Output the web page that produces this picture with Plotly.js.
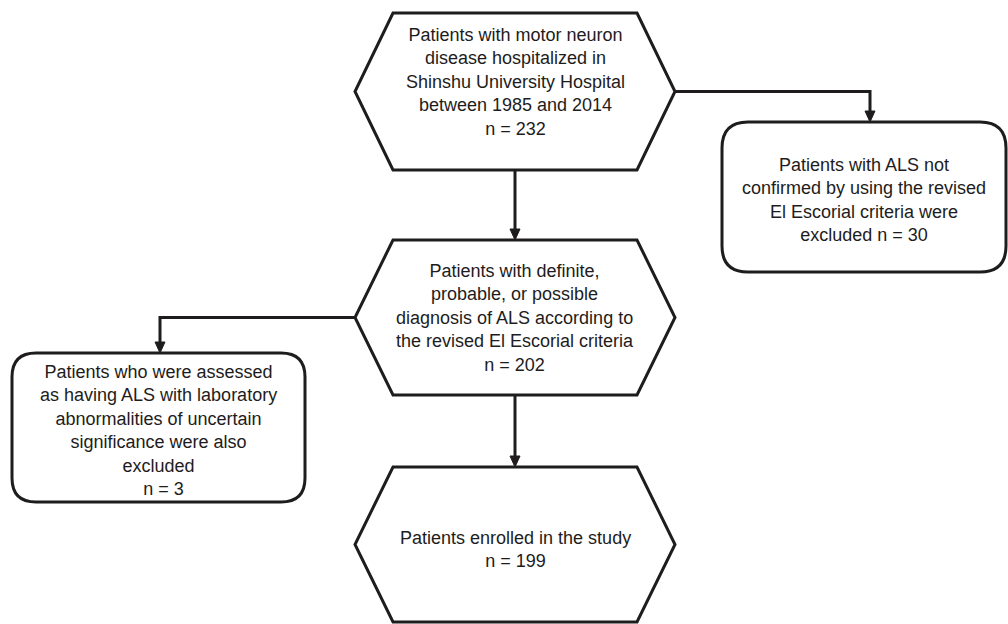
<!DOCTYPE html>
<html>
<head>
<meta charset="utf-8">
<script src="https://cdn.plot.ly/plotly-3.0.1.min.js"></script>
<style>html,body{margin:0;padding:0;background:#fff;}#chart{width:1008px;height:624px;}</style>
</head>
<body>
<div id="chart"></div>
<script>
// ---- data ----
const stepTexts = [
  "Patients with motor neuron<br>disease hospitalized in<br>Shinshu University Hospital<br>between 1985 and 2014",
  "Patients with definite,<br>probable, or possible<br>diagnosis of ALS according to<br>the revised El Escorial criteria",
  "Patients enrolled in the study"
];
const stepCounts = [232, 202, 199];
const exclusionTexts = [
  "Patients with ALS not<br>confirmed by using the revised<br>El Escorial criteria were<br>excluded n = 30",
  "Patients who were assessed<br>as having ALS with laboratory<br>abnormalities of uncertain<br>significance were also<br>excluded<br>  n = 3"
];

// ---- geometry ----
const INK = "#1e1c1c";
const LW = 3;
const hexX = {left: 355, inL: 393, inR: 637, right: 675, cx: 515};
const hexY = [[13, 170], [240, 395], [467, 622]];
const boxes = [
  {x0: 722, x1: 1006, y0: 122, y1: 272, r: 26},
  {x0: 12, x1: 305, y0: 353, y1: 502, r: 24}
];

function hexPath(y0, y1) {
  const ym = (y0 + y1) / 2;
  return `M ${hexX.inL} ${y0} L ${hexX.inR} ${y0} L ${hexX.right} ${ym} L ${hexX.inR} ${y1} L ${hexX.inL} ${y1} L ${hexX.left} ${ym} Z`;
}
function roundRect(b) {
  const {x0, x1, y0, y1, r} = b;
  return `M ${x0 + r} ${y0} L ${x1 - r} ${y0} Q ${x1} ${y0} ${x1} ${y0 + r} L ${x1} ${y1 - r} Q ${x1} ${y1} ${x1 - r} ${y1} L ${x0 + r} ${y1} Q ${x0} ${y1} ${x0} ${y1 - r} L ${x0} ${y0 + r} Q ${x0} ${y0} ${x0 + r} ${y0} Z`;
}
function arrowHead(x, yTip) {
  return `M ${x - 5} ${yTip - 11} L ${x + 5} ${yTip - 11} L ${x} ${yTip} Z`;
}

const shapes = [];
hexY.forEach(([y0, y1]) => shapes.push({type: "path", path: hexPath(y0, y1), line: {color: INK, width: LW}}));
boxes.forEach(b => shapes.push({type: "path", path: roundRect(b), line: {color: INK, width: LW}}));

// connectors
const lines = [];
// hex1 -> hex2
lines.push(`M ${hexX.cx} ${hexY[0][1]} L ${hexX.cx} ${hexY[1][0] - 9}`);
// hex2 -> hex3
lines.push(`M ${hexX.cx} ${hexY[1][1]} L ${hexX.cx} ${hexY[2][0] - 9}`);
// hex1 -> right box
const y1m = (hexY[0][0] + hexY[0][1]) / 2;
lines.push(`M ${hexX.right} ${y1m} L 870 ${y1m} L 870 ${boxes[0].y0 - 9}`);
// hex2 -> left box
const y2m = (hexY[1][0] + hexY[1][1]) / 2;
lines.push(`M ${hexX.left} ${y2m} L 160 ${y2m} L 160 ${boxes[1].y0 - 9}`);
lines.forEach(p => shapes.push({type: "path", path: p, line: {color: INK, width: LW}}));

[[hexX.cx, hexY[1][0]], [hexX.cx, hexY[2][0]], [870, boxes[0].y0], [160, boxes[1].y0]].forEach(([x, y]) =>
  shapes.push({type: "path", path: arrowHead(x, y), fillcolor: INK, line: {color: INK, width: 1}}));

const font = {family: "Liberation Sans, Arial, sans-serif", size: 18, color: INK};
const annotations = [];
const stepCenters = [82, 318, 549];
stepTexts.forEach((t, i) => annotations.push({
  x: hexX.cx, y: stepCenters[i], xref: "x", yref: "y", showarrow: false,
  text: t + "<br>n = " + stepCounts[i], font: font, align: "center", xanchor: "center", yanchor: "middle"
}));
const exclCenters = [[864, 200], [158, 430]];
exclusionTexts.forEach((t, i) => annotations.push({
  x: exclCenters[i][0], y: exclCenters[i][1], xref: "x", yref: "y", showarrow: false,
  text: t, font: font, align: "center", xanchor: "center", yanchor: "middle"
}));

const layout = {
  width: 1008, height: 624,
  margin: {l: 0, r: 0, t: 0, b: 0},
  paper_bgcolor: "#ffffff", plot_bgcolor: "#ffffff",
  xaxis: {range: [0, 1008], visible: false, fixedrange: true},
  yaxis: {range: [624, 0], visible: false, fixedrange: true},
  shapes: shapes, annotations: annotations, showlegend: false
};
Plotly.newPlot("chart", [], layout, {displayModeBar: false, staticPlot: true});
</script>
</body>
</html>
